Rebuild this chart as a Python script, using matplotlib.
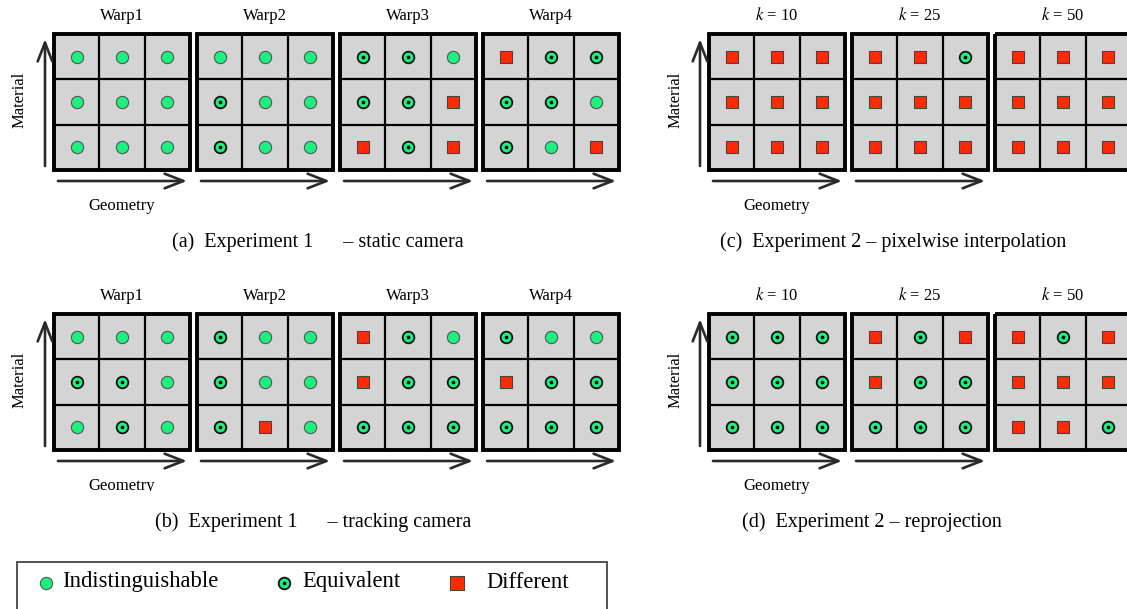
import numpy as np
import matplotlib.pyplot as plt
from matplotlib.patches import Rectangle

plt.rcParams['font.family'] = ['Liberation Serif', 'DejaVu Serif']
plt.rcParams['mathtext.fontset'] = 'stix'

# cell codes, rows top -> bottom: I = indistinguishable, E = equivalent, D = different
warp_titles = ['Warp1', 'Warp2', 'Warp3', 'Warp4']
k_titles = [r'$k$ = 10', r'$k$ = 25', r'$k$ = 50']

static_cam = [
    ['III', 'III', 'III'],
    ['III', 'EII', 'EII'],
    ['EEI', 'EED', 'DED'],
    ['DEE', 'EEI', 'EID'],
]
tracking_cam = [
    ['III', 'EEI', 'IEI'],
    ['EII', 'EII', 'EDI'],
    ['DEI', 'DEE', 'EEE'],
    ['EII', 'DEE', 'EEE'],
]
pixelwise = [
    ['DDD', 'DDD', 'DDD'],
    ['DDE', 'DDD', 'DDD'],
    ['DDD', 'DDD', 'DDD'],
]
reprojection = [
    ['EEE', 'EEE', 'EEE'],
    ['DED', 'DEE', 'EEE'],
    ['DED', 'DDD', 'DDE'],
]

captions = ['(a)  Experiment 1      \u2013 static camera',
            '(b)  Experiment 1      \u2013 tracking camera',
            '(c)  Experiment 2 \u2013 pixelwise interpolation',
            '(d)  Experiment 2 \u2013 reprojection']
legend_labels = ['Indistinguishable', 'Equivalent', 'Different']

GREEN = '#1cf07e'
RED = '#ff2a00'
GRAY = '#d4d4d4'
SIZE = 136
STEP = 143

fig = plt.figure(figsize=(11.27, 6.09), dpi=100)
ax = fig.add_axes([0, 0, 1, 1])
ax.set_xlim(0, 1127)
ax.set_ylim(609, 0)
ax.axis('off')


def marker(x, y, code, scale=1.0):
    if code == 'D':
        ax.scatter(x, y, s=85 * scale, marker='s', c=RED, edgecolors='#444444', linewidths=0.8, zorder=5)
    elif code == 'I':
        ax.scatter(x, y, s=78 * scale, marker='o', c=GREEN, edgecolors='#555555', linewidths=0.8, zorder=5)
    else:
        ax.scatter(x, y, s=70 * scale, marker='o', c=GREEN, edgecolors='#111111', linewidths=1.3, zorder=5)
        ax.scatter(x, y, s=7 * scale, marker='o', c='black', linewidths=0, zorder=6)


def draw_grid(x0, y0, rows, title):
    c = SIZE / 3
    ax.add_patch(Rectangle((x0, y0), SIZE, SIZE, fc=GRAY, ec='none', zorder=1))
    for i in (1, 2):
        ax.plot([x0 + i * c] * 2, [y0, y0 + SIZE], color='black', lw=1.6, zorder=2)
        ax.plot([x0, x0 + SIZE], [y0 + i * c] * 2, color='black', lw=1.6, zorder=2)
    ax.add_patch(Rectangle((x0, y0), SIZE, SIZE, fc='none', ec='black', lw=2.8, zorder=3))
    for r, row in enumerate(rows):
        for j, code in enumerate(row):
            marker(x0 + (j + 0.5) * c, y0 + (r + 0.5) * c, code)
    ax.text(x0 + SIZE / 2, y0 - 18, title, ha='center', va='center', fontsize=12)
    ax.annotate('', xy=(x0 + SIZE - 3, y0 + SIZE + 11), xytext=(x0 + 4, y0 + SIZE + 11),
                arrowprops=dict(arrowstyle='->,head_length=0.9,head_width=0.35', lw=1.9,
                                color='#2a2a2a', mutation_scale=15, shrinkA=0, shrinkB=0))


def draw_panel(left, top, grids, titles, caption, cap_x, geo_x, mat_x, geo_clip=None):
    for g, (rows, title) in enumerate(zip(grids, titles)):
        draw_grid(left + g * STEP, top, rows, title)
    ax.annotate('', xy=(left - 9, top + 5), xytext=(left - 9, top + SIZE - 4),
                arrowprops=dict(arrowstyle='->,head_length=0.9,head_width=0.35', lw=1.9,
                                color='#2a2a2a', mutation_scale=15, shrinkA=0, shrinkB=0))
    ax.text(mat_x, top + SIZE / 2 - 2, 'Material', rotation=90, ha='center', va='center', fontsize=12)
    geo = ax.text(geo_x, top + SIZE + 36, 'Geometry', ha='center', va='center', fontsize=12)
    if geo_clip is not None:
        clip = Rectangle((0, 0), 1127, geo_clip, transform=ax.transData, fc='none', ec='none')
        geo.set_clip_path(clip)
        geo.set_clip_on(True)
    ax.text(cap_x, top + SIZE + 72, caption, ha='left', va='center', fontsize=14.5)


draw_panel(54, 34, static_cam, warp_titles, captions[0], 172, 122, 20)
draw_panel(54, 314, tracking_cam, warp_titles, captions[1], 155, 122, 20, geo_clip=491)
draw_panel(709, 34, pixelwise, k_titles, captions[2], 720, 777, 676)
draw_panel(709, 314, reprojection, k_titles, captions[3], 742, 777, 676)

# legend box
ax.add_patch(Rectangle((17, 562), 590, 48, fc='white', ec='#333333', lw=1.2, zorder=1))
leg_marker_x = [46, 284, 457]
leg_text_x = [62, 302, 486]
for code, mx, tx, label in zip('IED', leg_marker_x, leg_text_x, legend_labels):
    marker(mx, 583, code, scale=1.0 if code != 'D' else 1.1)
    ax.text(tx, 582, label, ha='left', va='center', fontsize=16.3)

fig.savefig('out.png', dpi=100)
